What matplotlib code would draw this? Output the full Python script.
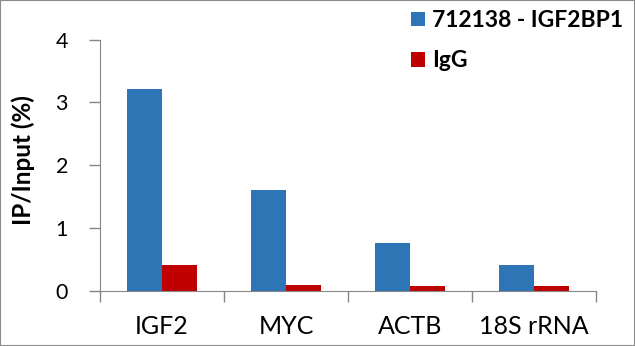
import numpy as np
import matplotlib
matplotlib.use('Agg')
import matplotlib.pyplot as plt
from matplotlib.patches import Patch, Rectangle

plt.rcParams['font.family'] = ['Lato', 'DejaVu Sans']

targets = ['IGF2', 'MYC', 'ACTB', '18S rRNA']
ip_igf2bp1 = [3.22, 1.61, 0.77, 0.41]
ip_igg = [0.41, 0.095, 0.08, 0.08]
series_names = ['712138 - IGF2BP1', 'IgG']

blue = '#2E75B6'
red = '#C00000'
axis_grey = '#868686'

fig = plt.figure(figsize=(6.35, 3.46), dpi=100)
ax = fig.add_axes([100/635, 55/346, 496/635, 251.5/346])

x = np.arange(len(targets))
w = 0.286
ax.bar(x - w/2, ip_igf2bp1, width=w, color=blue)
ax.bar(x + w/2, ip_igg, width=w, color=red)

ax.set_xlim(-0.5, len(targets) - 0.5)
ax.set_ylim(0, 4)
ax.set_yticks([0, 1, 2, 3, 4])

# category labels at centres, tick marks at the boundaries
ax.set_xticks(x)
ax.set_xticklabels(targets, fontsize=18)
ax.set_xticks(np.arange(-0.5, len(targets)), minor=True)
ax.tick_params(axis='x', which='major', length=0, pad=17)
ax.tick_params(axis='x', which='minor', length=8, width=1, color=axis_grey)
ax.tick_params(axis='y', length=8, width=1, color=axis_grey, pad=15, labelsize=15.5)

for side in ['top', 'right']:
    ax.spines[side].set_visible(False)
for side in ['left', 'bottom']:
    ax.spines[side].set_color(axis_grey)

ax.set_ylabel('IP/Input (%)', fontsize=17.5, fontweight='bold')
ax.yaxis.set_label_coords(-65/496, 0.52)

handles = [Patch(facecolor=blue), Patch(facecolor=red)]
fig.legend(handles, series_names, loc='upper left', bbox_to_anchor=(411/635, 1 - 10/346),
           frameon=False, prop={'size': 16.5, 'weight': 'bold'},
           handlelength=0.6, handleheight=0.6, handletextpad=0.3,
           labelspacing=0.85, borderpad=0, borderaxespad=0)

# thin border around the whole figure
fig.patches.append(Rectangle((0, 0), 1, 1, transform=fig.transFigure, fill=False,
                             edgecolor='#8a8a8a', linewidth=1.5))

fig.savefig('out.png', dpi=100)
